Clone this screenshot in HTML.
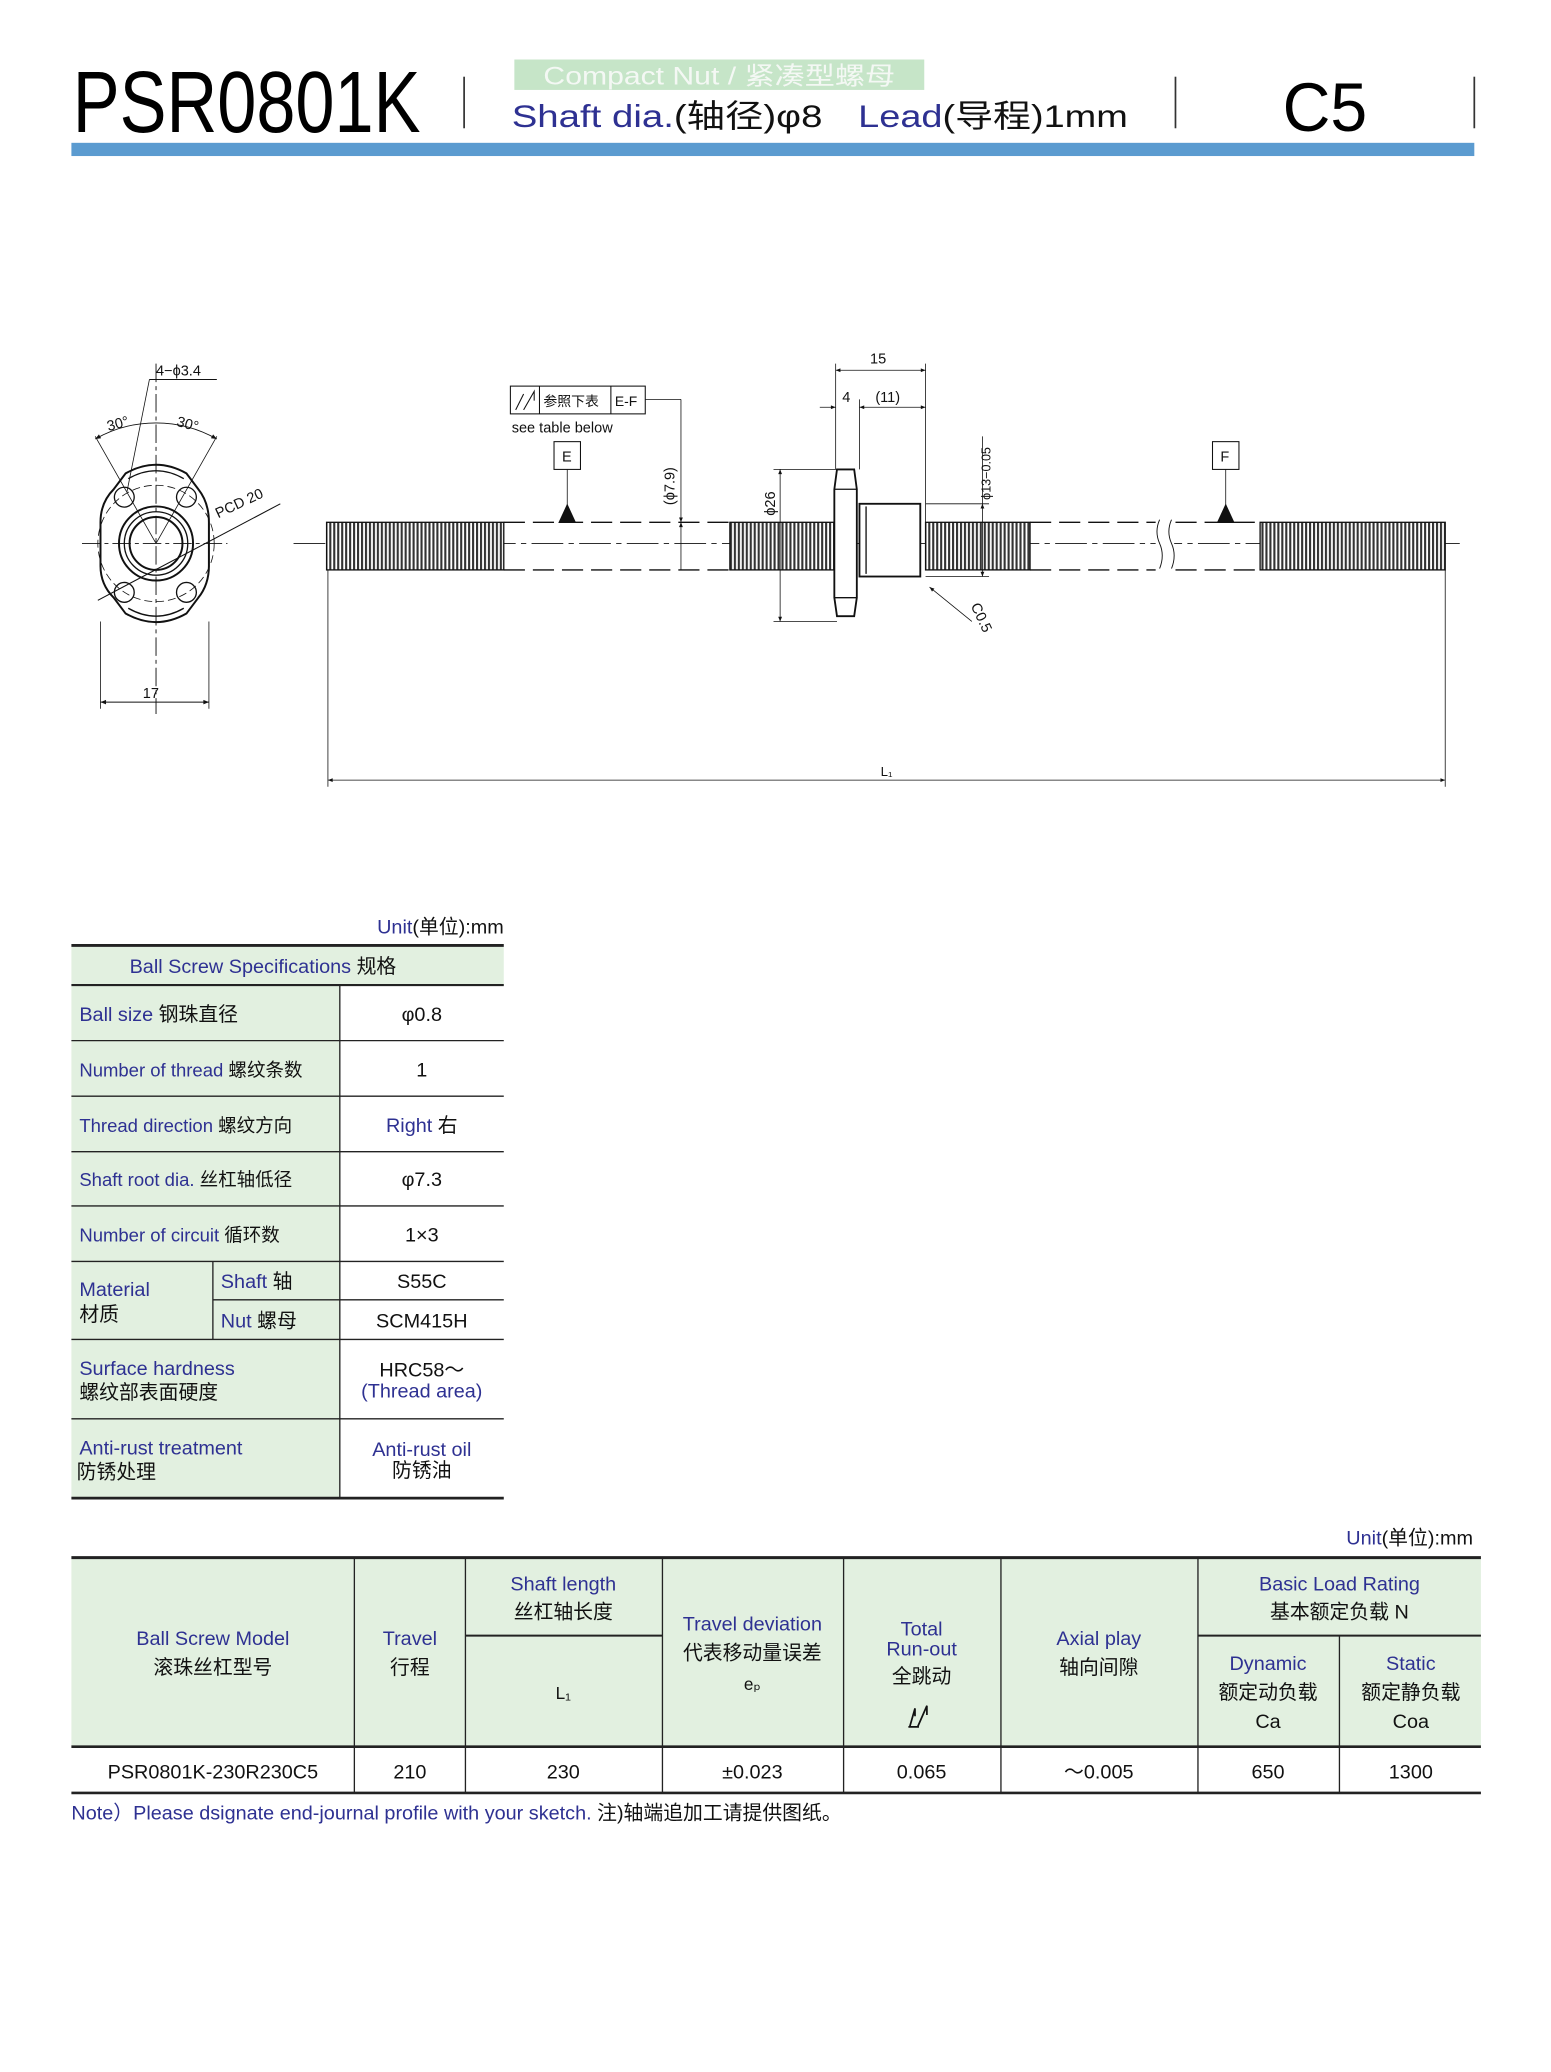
<!DOCTYPE html>
<html><head><meta charset="utf-8"><style>
html,body{margin:0;padding:0;background:#fff}
svg{display:block}
text{font-family:"Liberation Sans","Noto Sans CJK SC",sans-serif}
.n{fill:#2e3192}
.k{fill:#111}
.d{font-size:11px;fill:#111}
</style></head><body>
<svg width="1551" height="2072" viewBox="0 0 1173 1567" xmlns="http://www.w3.org/2000/svg">
<defs>
<pattern id="th" x="0" y="0" width="3" height="10" patternUnits="userSpaceOnUse">
<rect width="3" height="10" fill="#fff"/><rect x="0" width="1.6" height="10" fill="#333"/>
</pattern>
<marker id="a" viewBox="0 0 10 10" refX="10" refY="5" markerWidth="8" markerHeight="6" orient="auto-start-reverse"><path d="M0,1 L10,5 L0,9z" fill="#111"/></marker>
</defs>
<!-- Header -->
<text x="55" y="100" font-size="66" textLength="263" lengthAdjust="spacingAndGlyphs" fill="#000">PSR0801K</text>
<line x1="351" y1="58" x2="351" y2="97" stroke="#333" stroke-width="1.3"/>
<rect x="389" y="45" width="310" height="23" fill="#c6e5c8"/>
<text x="411" y="64" font-size="19" fill="#f4f8f4" textLength="266" lengthAdjust="spacingAndGlyphs">Compact Nut / 紧凑型螺母</text>
<text x="387" y="96" font-size="24" textLength="235" lengthAdjust="spacingAndGlyphs"><tspan class="n">Shaft dia.</tspan><tspan fill="#111">(轴径)φ8</tspan></text>
<text x="649" y="96" font-size="24" textLength="204" lengthAdjust="spacingAndGlyphs"><tspan class="n">Lead</tspan><tspan fill="#111">(导程)1mm</tspan></text>
<line x1="889" y1="58" x2="889" y2="97" stroke="#333" stroke-width="1.3"/>
<text x="970" y="99" font-size="52" fill="#000" textLength="64" lengthAdjust="spacingAndGlyphs">C5</text>
<line x1="1115" y1="58" x2="1115" y2="97" stroke="#333" stroke-width="1.3"/>
<rect x="54" y="108" width="1061" height="10" fill="#5b9bd0"/>

<!-- Flange front view -->
<g stroke="#111" fill="none" stroke-width="1">
<line x1="62" y1="411" x2="172" y2="411" stroke-dasharray="14,3,3,3" stroke-width="0.7"/>
<line x1="118" y1="275" x2="118" y2="540" stroke-dasharray="14,3,3,3" stroke-width="0.7"/>
<path d="M95,358 Q118,345 141,358 L150,370 Q158,380 158,395 L158,428 Q158,442 150,452 L141,464 Q118,477 95,464 L86,452 Q76,442 76,428 L76,395 Q76,380 86,370 Z" stroke-width="1.5"/>
<path d="M97,362 Q118,350 139,362" />
<path d="M97,460 Q118,472 139,460" />
<circle cx="118" cy="411" r="28" stroke-width="1.5"/>
<circle cx="118" cy="411" r="24"/>
<circle cx="118" cy="411" r="20" stroke-width="1.5"/>
<circle cx="118" cy="411" r="44" stroke-dasharray="6,3" stroke-width="0.6"/>
<circle cx="94" cy="376" r="7.5"/><circle cx="141" cy="376" r="7.5"/>
<circle cx="94" cy="448" r="7.5"/><circle cx="141" cy="448" r="7.5"/>
<line x1="74" y1="454" x2="212" y2="381" stroke-width="0.8"/>
<line x1="118" y1="411" x2="72" y2="330" stroke-width="0.6"/>
<line x1="118" y1="411" x2="164" y2="330" stroke-width="0.6"/>
<path d="M72,332 A93,93 0 0 1 164,332" stroke-width="0.7" marker-start="url(#a)" marker-end="url(#a)"/>
<line x1="113" y1="287" x2="164" y2="287" stroke-width="0.8"/>
<line x1="113" y1="287" x2="96" y2="372" stroke-width="0.6"/>
<line x1="76" y1="470" x2="76" y2="536" stroke-width="0.6"/>
<line x1="158" y1="470" x2="158" y2="536" stroke-width="0.6"/>
<line x1="76" y1="531" x2="158" y2="531" stroke-width="0.7" marker-start="url(#a)" marker-end="url(#a)"/>
</g>
<text x="118" y="284" class="d">4−ϕ3.4</text>
<text x="82" y="326" class="d" transform="rotate(-15 82 326)">30°</text>
<text x="133" y="322" class="d" transform="rotate(15 133 322)">30°</text>
<text x="165" y="392" class="d" transform="rotate(-25 165 392)">PCD 20</text>
<text x="108" y="528" class="d">17</text>

<!-- Shaft side view -->
<g stroke="#111" fill="none">
<line x1="222" y1="411" x2="1104" y2="411" stroke-dasharray="24,4,4,4" stroke-width="0.7"/>
<rect x="247" y="395" width="134" height="36" fill="url(#th)" stroke-width="1"/>
<rect x="552" y="395" width="80" height="36" fill="url(#th)" stroke-width="1"/>
<rect x="700" y="395" width="79" height="36" fill="url(#th)" stroke-width="1"/>
<rect x="953" y="395" width="140" height="36" fill="url(#th)" stroke-width="1"/>
<g stroke-dasharray="16,6" stroke-width="1">
<line x1="381" y1="395" x2="552" y2="395"/><line x1="381" y1="431" x2="552" y2="431"/>
<line x1="779" y1="395" x2="953" y2="395"/><line x1="779" y1="431" x2="953" y2="431"/>
</g>
<rect x="874" y="392" width="14" height="42" fill="#fff" stroke="none"/>
<path d="M877,393 q-4,9 0,18 q4,9 0,19 M886,393 q-4,9 0,18 q4,9 0,19" stroke-width="0.7"/>
<path d="M633,355 L646,355 L648,370 L648,452 L646,466 L633,466 L631,452 L631,370 Z" fill="#fff" stroke-width="1.4"/>
<line x1="631" y1="370" x2="648" y2="370"/><line x1="631" y1="452" x2="648" y2="452"/>
<rect x="650" y="381" width="46" height="55" fill="#fff" stroke-width="1.4"/>
<line x1="655" y1="383" x2="655" y2="434"/>
<!-- dims -->
<g stroke-width="0.6">
<line x1="632" y1="275" x2="632" y2="355"/><line x1="650" y1="302" x2="650" y2="355"/><line x1="700" y1="275" x2="700" y2="395"/>
<line x1="632" y1="280" x2="700" y2="280" marker-start="url(#a)" marker-end="url(#a)"/>
<line x1="620" y1="308" x2="632" y2="308" marker-end="url(#a)"/>
<line x1="650" y1="308" x2="700" y2="308" marker-start="url(#a)" marker-end="url(#a)"/>
<line x1="585" y1="355" x2="633" y2="355"/><line x1="585" y1="470" x2="633" y2="470"/>
<line x1="590" y1="355" x2="590" y2="470" marker-start="url(#a)" marker-end="url(#a)"/>
<line x1="700" y1="381" x2="748" y2="381"/><line x1="700" y1="436" x2="748" y2="436"/>
<line x1="743" y1="381" x2="743" y2="436" marker-start="url(#a)" marker-end="url(#a)"/>
<line x1="743" y1="330" x2="743" y2="381"/>
<line x1="488" y1="302" x2="515" y2="302"/>
<line x1="515" y1="302" x2="515" y2="395" marker-end="url(#a)"/>
<line x1="515" y1="431" x2="515" y2="395" marker-end="url(#a)"/>
<line x1="735" y1="470" x2="703" y2="444" marker-end="url(#a)"/>
<line x1="248" y1="431" x2="248" y2="595"/><line x1="1093" y1="431" x2="1093" y2="595"/>
<line x1="248" y1="590" x2="1093" y2="590" marker-start="url(#a)" marker-end="url(#a)"/>
<line x1="429" y1="355" x2="429" y2="384"/><line x1="927" y1="355" x2="927" y2="384"/>
</g>
<path d="M423,395 L429,382 L435,395Z" fill="#111"/>
<path d="M921,395 L927,382 L933,395Z" fill="#111"/>
<rect x="419" y="334" width="20" height="21" stroke-width="0.8"/>
<rect x="917" y="334" width="20" height="21" stroke-width="0.8"/>
<rect x="386" y="292" width="102" height="21" stroke-width="0.8"/>
<line x1="408" y1="292" x2="408" y2="313" stroke-width="0.8"/><line x1="462" y1="292" x2="462" y2="313" stroke-width="0.8"/>
<path d="M390,310 L396,298 M396,310 L404,296 L404,303" stroke-width="0.8"/>
</g>
<text x="425" y="349" class="d">E</text>
<text x="923" y="349" class="d">F</text>
<text x="411" y="307" font-size="10.5" fill="#111">参照下表</text>
<text x="465" y="307" font-size="10.5" fill="#111">E-F</text>
<text x="387" y="327" class="d">see table below</text>
<text x="658" y="275" class="d">15</text>
<text x="637" y="304" class="d">4</text>
<text x="662" y="304" class="d">(11)</text>
<text x="586" y="390" class="d" transform="rotate(-90 586 390)">ϕ26</text>
<text x="510" y="382" class="d" transform="rotate(-90 510 382)">(ϕ7.9)</text>
<text x="749" y="378" font-size="9.5" fill="#111" transform="rotate(-90 749 378)">ϕ13−0.05</text>
<text x="734" y="458" class="d" transform="rotate(65 734 458)">C0.5</text>
<text x="666" y="587" font-size="10" fill="#111">L₁</text>

<!-- Spec table -->
<text x="381" y="706" font-size="15" text-anchor="end"><tspan class="n">Unit</tspan><tspan fill="#111">(单位):mm</tspan></text>
<rect x="54" y="716" width="327" height="29" fill="#e2f0e0"/>
<rect x="54" y="745" width="203" height="388" fill="#e2f0e0"/>
<g stroke="#222" stroke-width="1">
<line x1="54" y1="715" x2="381" y2="715" stroke-width="2.2"/>
<line x1="54" y1="745" x2="381" y2="745" stroke-width="1.6"/>
<line x1="54" y1="787" x2="381" y2="787"/><line x1="54" y1="829" x2="381" y2="829"/>
<line x1="54" y1="871" x2="381" y2="871"/><line x1="54" y1="912" x2="381" y2="912"/>
<line x1="54" y1="954" x2="381" y2="954"/><line x1="161" y1="983" x2="381" y2="983"/>
<line x1="54" y1="1013" x2="381" y2="1013"/><line x1="54" y1="1073" x2="381" y2="1073"/>
<line x1="54" y1="1133" x2="381" y2="1133" stroke-width="2"/>
<line x1="257" y1="745" x2="257" y2="1133"/><line x1="161" y1="954" x2="161" y2="1013"/>
</g>
<g font-size="15">
<text x="98" y="736" class="n">Ball Screw Specifications <tspan fill="#111">  规格</tspan></text>
<text x="60" y="772" class="n">Ball size  <tspan fill="#111">  钢珠直径</tspan></text>
<text x="60" y="814" class="n" font-size="14">Number of thread <tspan fill="#111">  螺纹条数</tspan></text>
<text x="60" y="856" class="n" font-size="14">Thread direction <tspan fill="#111">  螺纹方向</tspan></text>
<text x="60" y="897" class="n" font-size="14">Shaft root dia.  <tspan fill="#111"> 丝杠轴低径</tspan></text>
<text x="60" y="939" class="n" font-size="14">Number of circuit <tspan fill="#111">  循环数</tspan></text>
<text x="60" y="980" class="n">Material</text>
<text x="60" y="999" fill="#111">材质</text>
<text x="167" y="974" class="n">Shaft <tspan fill="#111">   轴</tspan></text>
<text x="167" y="1004" class="n">Nut <tspan fill="#111">  螺母</tspan></text>
<text x="60" y="1040" class="n">Surface hardness</text>
<text x="60" y="1058" fill="#111">螺纹部表面硬度</text>
<text x="60" y="1100" class="n">Anti-rust treatment</text>
<text x="58" y="1118" fill="#111">防锈处理</text>
<g text-anchor="middle" fill="#111">
<text x="319" y="772">φ0.8</text>
<text x="319" y="814">1</text>
<text x="319" y="856"><tspan class="n">Right</tspan>   右</text>
<text x="319" y="897">φ7.3</text>
<text x="319" y="939">1×3</text>
<text x="319" y="974">S55C</text>
<text x="319" y="1004">SCM415H</text>
<text x="319" y="1041">HRC58～</text>
<text x="319" y="1057" class="n">(Thread area)</text>
<text x="319" y="1101" class="n">Anti-rust oil</text>
<text x="319" y="1117">防锈油</text>
</g>
</g>

<!-- Table 2 -->
<text x="1114" y="1168" font-size="15" text-anchor="end"><tspan class="n">Unit</tspan><tspan fill="#111">(单位):mm</tspan></text>
<rect x="54" y="1179" width="1066" height="142" fill="#e2f0e0"/>
<g stroke="#222" stroke-width="1">
<line x1="54" y1="1178" x2="1120" y2="1178" stroke-width="2.2"/>
<line x1="54" y1="1321" x2="1120" y2="1321" stroke-width="2"/>
<line x1="54" y1="1356" x2="1120" y2="1356" stroke-width="2"/>
<line x1="352" y1="1237" x2="501" y2="1237" stroke-width="1.5"/>
<line x1="906" y1="1237" x2="1120" y2="1237" stroke-width="1.5"/>
<line x1="268" y1="1178" x2="268" y2="1356"/><line x1="352" y1="1178" x2="352" y2="1356"/>
<line x1="501" y1="1178" x2="501" y2="1356"/><line x1="638" y1="1178" x2="638" y2="1356"/>
<line x1="757" y1="1178" x2="757" y2="1356"/><line x1="906" y1="1178" x2="906" y2="1356"/>
<line x1="1013" y1="1237" x2="1013" y2="1356"/>
</g>
<g font-size="15" text-anchor="middle">
<text x="161" y="1244" class="n">Ball Screw Model</text><text x="161" y="1266" fill="#111">滚珠丝杠型号</text>
<text x="310" y="1244" class="n">Travel</text><text x="310" y="1266" fill="#111">行程</text>
<text x="426" y="1203" class="n">Shaft length</text><text x="426" y="1224" fill="#111">丝杠轴长度</text>
<text x="426" y="1285" fill="#111" font-size="13">L₁</text>
<text x="569" y="1233" class="n">Travel deviation</text><text x="569" y="1255" fill="#111">代表移动量误差</text>
<text x="569" y="1278" fill="#111" font-size="13">eₚ</text>
<text x="697" y="1237" class="n">Total</text><text x="697" y="1252" class="n">Run-out</text>
<text x="697" y="1273" fill="#111">全跳动</text>
<text x="831" y="1244" class="n">Axial play</text><text x="831" y="1266" fill="#111">轴向间隙</text>
<text x="1013" y="1203" class="n">Basic Load Rating</text><text x="1013" y="1224" fill="#111">基本额定负载   N</text>
<text x="959" y="1263" class="n">Dynamic</text><text x="959" y="1285" fill="#111">额定动负载</text><text x="959" y="1307" fill="#111">Ca</text>
<text x="1067" y="1263" class="n">Static</text><text x="1067" y="1285" fill="#111">额定静负载</text><text x="1067" y="1307" fill="#111">Coa</text>
<g fill="#111">
<text x="161" y="1345">PSR0801K-230R230C5</text>
<text x="310" y="1345">210</text><text x="426" y="1345">230</text>
<text x="569" y="1345">±0.023</text><text x="697" y="1345">0.065</text>
<text x="831" y="1345">～0.005</text><text x="959" y="1345">650</text><text x="1067" y="1345">1300</text>
</g>
</g>
<path d="M688,1306 L692,1292 L692,1298 M694,1306 L701,1290 L701,1297 M687,1306 L695,1306" stroke="#111" stroke-width="1.3" fill="none"/>
<text x="54" y="1376" font-size="15"><tspan class="n">Note）Please dsignate end-journal profile with your sketch.</tspan><tspan fill="#111">   注)轴端追加工请提供图纸。</tspan></text>
</svg>
</body></html>
